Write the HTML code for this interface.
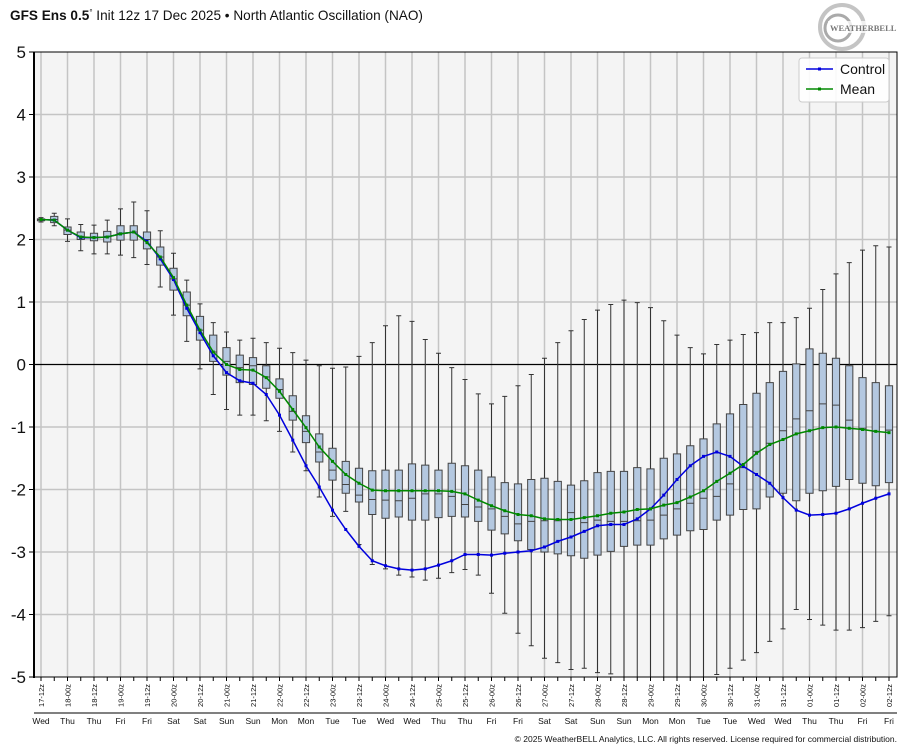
<!DOCTYPE html>
<html><head><meta charset="utf-8"><style>
body{margin:0;background:#fff;width:913px;height:750px;overflow:hidden;font-family:"Liberation Sans",sans-serif}
</style></head><body>
<svg id="s" width="913" height="750" xmlns="http://www.w3.org/2000/svg" font-family="Liberation Sans, sans-serif">
<text x="10" y="20" font-size="13.6" fill="#111"><tspan font-weight="bold">GFS Ens 0.5</tspan><tspan font-size="8" dy="-5">°</tspan><tspan dy="5"> Init 12z 17 Dec 2025 • North Atlantic Oscillation (NAO)</tspan></text>
<g>
<circle cx="842" cy="27" r="22" fill="none" stroke="#c4c4c4" stroke-width="4"/>
<circle cx="838" cy="28" r="13" fill="none" stroke="#aaa" stroke-width="3"/>
<rect x="828" y="21" width="64" height="12" fill="#fff" opacity="0.75"/>
<text x="830" y="31" font-size="8.5" fill="#777" font-family="Liberation Serif, serif" font-weight="bold">WEATHERBELL</text>
</g>
<rect x="34" y="52" width="863" height="625" fill="#f4f4f4"/>
<g id="grid"></g>
<g id="data"></g>
<rect x="34" y="52" width="863" height="625" fill="none" stroke="#000" stroke-width="1"/>
<line x1="34" y1="52" x2="34" y2="678" stroke="#000" stroke-width="2"/>
<g id="axis" font-size="17" fill="#111"></g>
<line x1="34" y1="713" x2="897" y2="713" stroke="#000" stroke-width="1"/>
<g>
<rect x="799" y="58" width="90" height="44" rx="3" fill="#fff" fill-opacity="0.9" stroke="#ccc"/>
<line x1="806" y1="69" x2="833" y2="69" stroke="#0000dd" stroke-width="1.5"/><rect x="818" y="67.5" width="3" height="3" fill="#0000dd"/>
<text x="840" y="74" font-size="14" fill="#111">Control</text>
<line x1="806" y1="89" x2="833" y2="89" stroke="#008800" stroke-width="1.5"/><rect x="818" y="87.5" width="3" height="3" fill="#008800"/>
<text x="840" y="94" font-size="14" fill="#111">Mean</text>
</g>
<text x="897" y="742" font-size="8.5" text-anchor="end" fill="#111">© 2025 WeatherBELL Analytics, LLC. All rights reserved. License required for commercial distribution.</text>
</svg>
<script>
var D=[
[2.35,2.33,2.32,2.30,2.28,2.32,2.32],[2.42,2.37,2.32,2.27,2.22,2.31,2.31],[2.33,2.2,2.15,2.08,1.97,2.15,2.15],
[2.24,2.12,2.05,2.0,1.82,2.03,2.04],[2.23,2.1,2.04,1.98,1.77,2.03,2.03],[2.31,2.13,2.05,1.96,1.77,2.04,2.04],
[2.49,2.22,2.1,1.99,1.75,2.09,2.09],[2.6,2.22,2.12,1.99,1.71,2.12,2.12],[2.46,2.12,2.0,1.85,1.6,1.97,1.95],
[2.14,1.88,1.72,1.59,1.24,1.69,1.72],[1.78,1.54,1.37,1.19,0.79,1.36,1.39],[1.35,1.16,0.95,0.78,0.37,0.9,0.95],
[0.97,0.77,0.55,0.39,-0.07,0.51,0.55],[0.67,0.47,0.2,0.05,-0.48,0.14,0.2],[0.52,0.27,0.05,-0.17,-0.72,-0.13,0],
[0.39,0.15,-0.05,-0.29,-0.81,-0.26,-0.08],[0.42,0.11,-0.02,-0.32,-0.81,-0.30,-0.09],[0.35,-0.02,-0.2,-0.38,-0.9,-0.48,-0.21],
[0.26,-0.23,-0.4,-0.54,-1.07,-0.81,-0.43],[0.19,-0.5,-0.75,-0.89,-1.4,-1.21,-0.72],[0.07,-0.82,-1.07,-1.25,-1.7,-1.62,-1.01],
[-0.02,-1.11,-1.4,-1.56,-2.12,-1.96,-1.32],[-0.06,-1.34,-1.69,-1.85,-2.43,-2.33,-1.55],[-0.04,-1.55,-1.92,-2.06,-2.35,-2.64,-1.76],
[0.13,-1.66,-2.09,-2.2,-2.88,-2.91,-1.9],[0.35,-1.7,-2.16,-2.4,-3.2,-3.14,-2.01],[0.62,-1.69,-2.17,-2.46,-3.27,-3.22,-2.02],
[0.78,-1.69,-2.18,-2.44,-3.37,-3.27,-2.02],[0.69,-1.59,-2.14,-2.49,-3.4,-3.29,-2.02],[0.4,-1.61,-2.07,-2.49,-3.45,-3.27,-2.02],
[0.18,-1.69,-2.07,-2.45,-3.42,-3.21,-2.02],[-0.05,-1.58,-2.11,-2.43,-3.33,-3.14,-2.03],[-0.24,-1.62,-2.24,-2.44,-3.28,-3.04,-2.07],
[-0.47,-1.69,-2.28,-2.51,-3.37,-3.04,-2.17],[-0.63,-1.8,-2.31,-2.65,-3.66,-3.05,-2.26],[-0.51,-1.89,-2.43,-2.71,-3.98,-3.02,-2.34],
[-0.34,-1.91,-2.55,-2.82,-4.3,-3.0,-2.4],[-0.16,-1.84,-2.51,-2.96,-4.5,-2.98,-2.42],[0.1,-1.82,-2.5,-3.0,-4.7,-2.92,-2.47],
[0.35,-1.87,-2.5,-3.03,-4.77,-2.83,-2.48],[0.54,-1.93,-2.37,-3.06,-4.88,-2.76,-2.48],[0.72,-1.86,-2.53,-3.1,-4.86,-2.67,-2.45],
[0.87,-1.73,-2.49,-3.05,-4.93,-2.58,-2.42],[0.96,-1.71,-2.51,-2.99,-4.95,-2.56,-2.38],[1.03,-1.71,-2.51,-2.91,-5,-2.56,-2.36],
[0.99,-1.65,-2.5,-2.89,-5,-2.47,-2.32],[0.91,-1.67,-2.49,-2.89,-5,-2.31,-2.31],[0.7,-1.5,-2.41,-2.79,-5,-2.09,-2.25],
[0.47,-1.43,-2.31,-2.73,-5,-1.84,-2.21],[0.27,-1.3,-2.22,-2.66,-5,-1.62,-2.12],[0.17,-1.19,-2.14,-2.64,-5,-1.47,-2.02],
[0.32,-0.95,-2.11,-2.49,-4.96,-1.4,-1.87],[0.39,-0.79,-1.91,-2.41,-4.86,-1.47,-1.74],[0.48,-0.64,-1.65,-2.32,-4.73,-1.63,-1.6],
[0.51,-0.46,-1.39,-2.31,-4.61,-1.76,-1.42],[0.67,-0.29,-1.26,-2.12,-4.43,-1.9,-1.28],[0.67,-0.11,-1.06,-2.06,-4.23,-2.13,-1.2],
[0.75,0.01,-0.87,-2.18,-3.92,-2.33,-1.11],[0.9,0.25,-0.74,-2.06,-4.08,-2.41,-1.06],[1.2,0.18,-0.63,-2.02,-4.17,-2.4,-1.01],
[1.45,0.1,-0.65,-1.95,-4.25,-2.38,-1.0],[1.63,-0.02,-0.89,-1.84,-4.25,-2.31,-1.02],[1.83,-0.21,-1.02,-1.9,-4.21,-2.22,-1.04],
[1.9,-0.29,-1.07,-1.94,-4.11,-2.14,-1.07],[1.88,-0.34,-1.05,-1.89,-4.02,-2.07,-1.09]];
var X=function(i){return 41+i*13.25},Y=function(v){return 364.5-62.5*v};
var g='',d='',a='';
for(var k=0;k<33;k++){var x=X(2*k);g+='<line x1="'+x+'" y1="52" x2="'+x+'" y2="677" stroke="#c4c4c4" stroke-width="1.5"/>';}
for(var v=-4;v<=4;v++){if(v==0)continue;g+='<line x1="34" y1="'+Y(v)+'" x2="897" y2="'+Y(v)+'" stroke="#c4c4c4" stroke-width="1.5"/>';}
g+='<line x1="34" y1="'+Y(0)+'" x2="897" y2="'+Y(0)+'" stroke="#000" stroke-width="1.3"/>';
document.getElementById('grid').innerHTML=g;
var pc='',pm='';
D.forEach(function(r,i){var x=X(i),w=3.6;
d+='<line x1="'+x+'" y1="'+Y(r[0])+'" x2="'+x+'" y2="'+Y(r[4])+'" stroke="#333" stroke-width="1"/>';
d+='<line x1="'+(x-2.5)+'" y1="'+Y(r[0])+'" x2="'+(x+2.5)+'" y2="'+Y(r[0])+'" stroke="#333"/>';
d+='<line x1="'+(x-2.5)+'" y1="'+Y(r[4])+'" x2="'+(x+2.5)+'" y2="'+Y(r[4])+'" stroke="#333"/>';
d+='<rect x="'+(x-w)+'" y="'+Y(r[1])+'" width="'+(2*w)+'" height="'+Math.max(1,Y(r[3])-Y(r[1]))+'" fill="#b4c8e0" stroke="#444" stroke-width="1"/>';
d+='<line x1="'+(x-w)+'" y1="'+Y(r[2])+'" x2="'+(x+w)+'" y2="'+Y(r[2])+'" stroke="#444"/>';
pc+=x+','+Y(r[5])+' ';pm+=x+','+Y(r[6])+' ';});
d+='<polyline points="'+pc+'" fill="none" stroke="#0000dd" stroke-width="1.5"/>';
d+='<polyline points="'+pm+'" fill="none" stroke="#008800" stroke-width="1.5"/>';
D.forEach(function(r,i){var x=X(i);d+='<rect x="'+(x-1.5)+'" y="'+(Y(r[5])-1.5)+'" width="3" height="3" fill="#0000dd"/><rect x="'+(x-1.5)+'" y="'+(Y(r[6])-1.5)+'" width="3" height="3" fill="#008800"/>';});
document.getElementById('data').innerHTML=d;
for(var v=-5;v<=5;v++){a+='<text x="26" y="'+(Y(v)+6)+'" text-anchor="end">'+v+'</text><line x1="29" y1="'+Y(v)+'" x2="34" y2="'+Y(v)+'" stroke="#000"/>';}
var days={17:'Wed',18:'Thu',19:'Fri',20:'Sat',21:'Sun',22:'Mon',23:'Tue',24:'Wed',25:'Thu',26:'Fri',27:'Sat',28:'Sun',29:'Mon',30:'Tue',31:'Wed',1:'Thu',2:'Fri'};
for(var i=0;i<65;i++){var x=X(i);a+='<line x1="'+x+'" y1="677" x2="'+x+'" y2="681" stroke="#000"/>';}
for(var k=0;k<33;k++){var h=12+12*k;var day=17+Math.floor(h/24);var hr=h%24;if(day>31)day-=31;
var lab=(day<10?'0':'')+day+'-'+(hr?'12':'00')+'z';var x=X(2*k);
a+='<text transform="translate('+(x+3)+',684) rotate(-90)" text-anchor="end" font-size="7.5">'+lab+'</text>';
a+='<text x="'+x+'" y="724" text-anchor="middle" font-size="8.5">'+days[day]+'</text>';}
document.getElementById('axis').innerHTML=a;
</script>
</body></html>
